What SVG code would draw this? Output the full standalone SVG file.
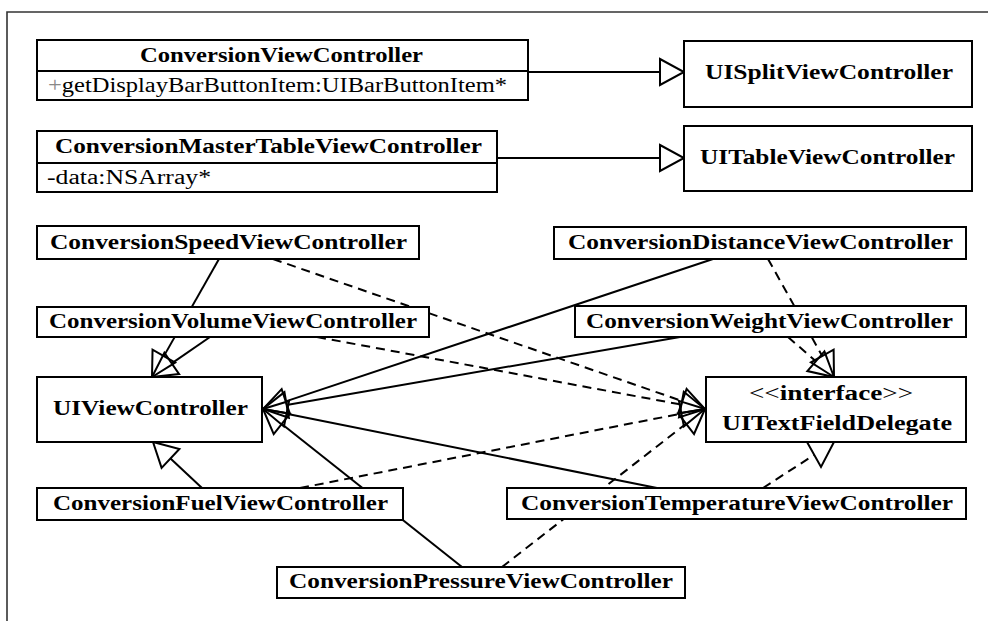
<svg xmlns="http://www.w3.org/2000/svg" width="988" height="621" viewBox="0 0 988 621">
  <style>
    .box { fill: #ffffff; stroke: #000000; stroke-width: 2; }
    .sep { stroke: #000000; stroke-width: 2; }
    .frame { fill: none; stroke: #333333; stroke-width: 1.6; }
    .lbl { font-family: "Liberation Serif", "DejaVu Serif", serif; font-size: 20px; font-weight: bold; fill: #000000; }
    .attr { font-family: "Liberation Serif", "DejaVu Serif", serif; font-size: 20px; font-weight: normal; fill: #000000; }
    .reg { font-weight: normal; }
    .grey { fill: #888888; }
    .edge { fill: none; stroke: #000000; stroke-width: 2; }
    .dash { stroke-dasharray: 9 6; }
    .head { fill: none; stroke: #000000; stroke-width: 2; stroke-dasharray: none; stroke-linejoin: miter; }
  </style>
  <defs>
    <!-- hollow UML triangle; the line ends at the triangle's base -->
    <marker id="tri" markerUnits="userSpaceOnUse" viewBox="-3 -16 30 32" markerWidth="30" markerHeight="32" refX="0" refY="0" orient="auto" overflow="visible">
      <path class="head" d="M0,-13 L24,0 L0,13 Z"/>
    </marker>
  </defs>

  <rect width="988" height="621" fill="#ffffff"/>
  <path class="frame" d="M7,621 V12 H988"/>

  <g id="connectors">
    <!-- generalisation: solid -->
    <line class="edge" x1="528" y1="72" x2="660" y2="72" marker-end="url(#tri)"/>
    <line class="edge" x1="497" y1="158" x2="660" y2="158" marker-end="url(#tri)"/>
    <line class="edge" x1="219" y1="259" x2="163.85" y2="356.13" marker-end="url(#tri)"/>
    <line class="edge" x1="210" y1="337" x2="171.76" y2="363.38" marker-end="url(#tri)"/>
    <line class="edge" x1="202" y1="488" x2="170.5" y2="458.43" marker-end="url(#tri)"/>
    <line class="edge" x1="713" y1="259" x2="285.77" y2="401.41" marker-end="url(#tri)"/>
    <line class="edge" x1="680" y1="337" x2="286.65" y2="404.92" marker-end="url(#tri)"/>
    <line class="edge" x1="657" y1="488" x2="286.53" y2="413.72" marker-end="url(#tri)"/>
    <line class="edge" x1="462" y1="567" x2="281.8" y2="423.92" marker-end="url(#tri)"/>
    <!-- realisation: dashed -->
    <line class="edge dash" x1="273" y1="259" x2="682.33" y2="401.13" marker-end="url(#tri)"/>
    <line class="edge dash" x1="317" y1="337" x2="681.4" y2="404.62" marker-end="url(#tri)"/>
    <line class="edge dash" x1="300" y1="488" x2="681.44" y2="413.6" marker-end="url(#tri)"/>
    <line class="edge dash" x1="502" y1="567" x2="686.06" y2="423.74" marker-end="url(#tri)"/>
    <line class="edge dash" x1="768" y1="259" x2="822.28" y2="356.05" marker-end="url(#tri)"/>
    <line class="edge dash" x1="788" y1="337" x2="815.89" y2="361.25" marker-end="url(#tri)"/>
    <line class="edge dash" x1="763" y1="488" x2="814" y2="455"/>
    <polygon class="head" points="807,442 834,442 821,467"/>
  </g>

  <g id="ConversionViewController">
    <rect class="box" x="37" y="40" width="491" height="60"/>
    <line class="sep" x1="37" y1="71" x2="528" y2="71"/>
    <text class="lbl" x="140" y="62" textLength="283" lengthAdjust="spacingAndGlyphs">ConversionViewController</text>
    <text class="attr" font-family="Liberation Serif, DejaVu Serif, serif" x="48" y="92" textLength="459" lengthAdjust="spacingAndGlyphs"><tspan class="grey">+</tspan>getDisplayBarButtonItem:UIBarButtonItem*</text>
  </g>

  <g id="UISplitViewController">
    <rect class="box" x="684" y="41" width="288" height="66"/>
    <text class="lbl" x="705" y="79" textLength="248" lengthAdjust="spacingAndGlyphs">UISplitViewController</text>
  </g>

  <g id="ConversionMasterTableViewController">
    <rect class="box" x="37" y="131" width="460" height="61"/>
    <line class="sep" x1="37" y1="163" x2="497" y2="163"/>
    <text class="lbl" x="55" y="153" textLength="427" lengthAdjust="spacingAndGlyphs">ConversionMasterTableViewController</text>
    <text class="attr" font-family="Liberation Serif, DejaVu Serif, serif" x="47" y="184" textLength="164" lengthAdjust="spacingAndGlyphs">-data:NSArray*</text>
  </g>

  <g id="UITableViewController">
    <rect class="box" x="684" y="126" width="288" height="65"/>
    <text class="lbl" x="700" y="164" textLength="255" lengthAdjust="spacingAndGlyphs">UITableViewController</text>
  </g>

  <g id="ConversionSpeedViewController">
    <rect class="box" x="37" y="226" width="382" height="33"/>
    <text class="lbl" x="50" y="249" textLength="357" lengthAdjust="spacingAndGlyphs">ConversionSpeedViewController</text>
  </g>

  <g id="ConversionVolumeViewController">
    <rect class="box" x="37" y="307" width="392" height="30"/>
    <text class="lbl" x="49" y="328" textLength="368" lengthAdjust="spacingAndGlyphs">ConversionVolumeViewController</text>
  </g>

  <g id="ConversionDistanceViewController">
    <rect class="box" x="554" y="227" width="412" height="32"/>
    <text class="lbl" x="568" y="249" textLength="385" lengthAdjust="spacingAndGlyphs">ConversionDistanceViewController</text>
  </g>

  <g id="ConversionWeightViewController">
    <rect class="box" x="575" y="306" width="391" height="31"/>
    <text class="lbl" x="586" y="328" textLength="367" lengthAdjust="spacingAndGlyphs">ConversionWeightViewController</text>
  </g>

  <g id="UIViewController">
    <rect class="box" x="37" y="377" width="225" height="65"/>
    <text class="lbl" x="53" y="415" textLength="195" lengthAdjust="spacingAndGlyphs">UIViewController</text>
  </g>

  <g id="UITextFieldDelegate">
    <rect class="box" x="706" y="377" width="260" height="65"/>
    <text class="lbl" x="749" y="400" textLength="164" lengthAdjust="spacingAndGlyphs"><tspan class="reg">&lt;&lt;</tspan>interface<tspan class="reg">&gt;&gt;</tspan></text>
    <text class="lbl" x="722" y="430" textLength="230" lengthAdjust="spacingAndGlyphs">UITextFieldDelegate</text>
  </g>

  <g id="ConversionFuelViewController">
    <rect class="box" x="37" y="488" width="366" height="32"/>
    <text class="lbl" x="53" y="510" textLength="335" lengthAdjust="spacingAndGlyphs">ConversionFuelViewController</text>
  </g>

  <g id="ConversionTemperatureViewController">
    <rect class="box" x="507" y="488" width="459" height="31"/>
    <text class="lbl" x="521" y="510" textLength="432" lengthAdjust="spacingAndGlyphs">ConversionTemperatureViewController</text>
  </g>

  <g id="ConversionPressureViewController">
    <rect class="box" x="277" y="567" width="408" height="31"/>
    <text class="lbl" x="289" y="588" textLength="384" lengthAdjust="spacingAndGlyphs">ConversionPressureViewController</text>
  </g>
</svg>
